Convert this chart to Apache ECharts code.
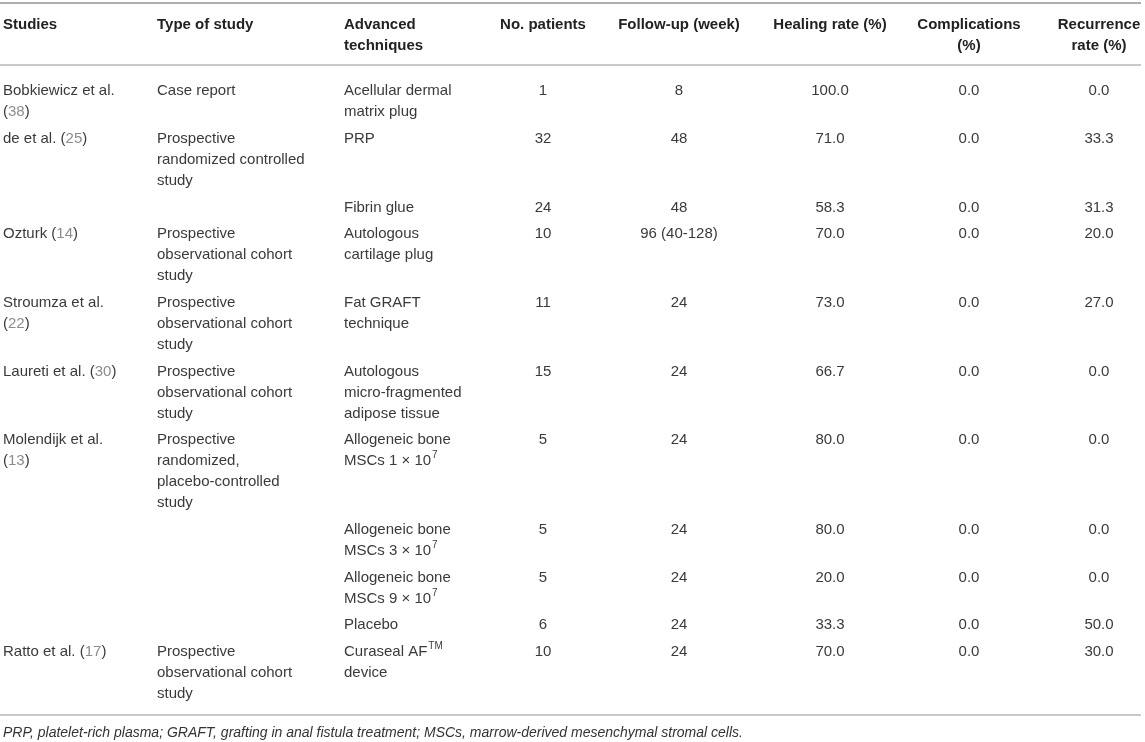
<!DOCTYPE html>
<html>
<head>
<meta charset="utf-8">
<title>Advanced techniques table</title>
<script src="https://cdn.jsdelivr.net/npm/echarts@6/dist/echarts.min.js"></script>
<style>
  html, body { margin: 0; padding: 0; background: #ffffff; }
  #chart { width: 1145px; height: 742px; }
</style>
</head>
<body>
<div id="chart"></div>
<script>
// ---------------- DATA ----------------
const columnHeaders = ['Studies', 'Type of study', 'Advanced\ntechniques', 'No. patients',
  'Follow-up (week)', 'Healing rate (%)', 'Complications\n(%)', 'Recurrence\nrate (%)'];

const studies = ['Bobkiewicz et al.\n(38)', 'de et al. (25)', '', 'Ozturk (14)',
  'Stroumza et al.\n(22)', 'Laureti et al. (30)', 'Molendijk et al.\n(13)', '', '', '',
  'Ratto et al. (17)'];

const studyTypes = ['Case report', 'Prospective\nrandomized controlled\nstudy', '',
  'Prospective\nobservational cohort\nstudy', 'Prospective\nobservational cohort\nstudy',
  'Prospective\nobservational cohort\nstudy',
  'Prospective\nrandomized,\nplacebo-controlled\nstudy', '', '', '',
  'Prospective\nobservational cohort\nstudy'];

const techniques = ['Acellular dermal\nmatrix plug', 'PRP', 'Fibrin glue', 'Autologous\ncartilage plug',
  'Fat GRAFT\ntechnique', 'Autologous\nmicro-fragmented\nadipose tissue',
  'Allogeneic bone\nMSCs 1 × 10^7', 'Allogeneic bone\nMSCs 3 × 10^7',
  'Allogeneic bone\nMSCs 9 × 10^7', 'Placebo', 'Curaseal AF^TM\ndevice'];

const patients = [1, 32, 24, 10, 11, 15, 5, 5, 5, 6, 10];
const followUpWeeks = ['8', '48', '48', '96 (40-128)', '24', '24', '24', '24', '24', '24', '24'];
const healingRate = [100.0, 71.0, 58.3, 70.0, 73.0, 66.7, 80.0, 80.0, 20.0, 33.3, 70.0];
const complications = [0.0, 0.0, 0.0, 0.0, 0.0, 0.0, 0.0, 0.0, 0.0, 0.0, 0.0];
const recurrenceRate = [0.0, 33.3, 31.3, 20.0, 27.0, 0.0, 0.0, 0.0, 0.0, 50.0, 30.0];

const footnote = 'PRP, platelet-rich plasma; GRAFT, grafting in anal fistula treatment; MSCs, marrow-derived mesenchymal stromal cells.';

// ---------------- LAYOUT / STYLE ----------------
const W = 1145, H = 742;
const FONT = '"Liberation Sans", Arial, Helvetica, sans-serif';
const colAnchor = [3, 157, 344, 543, 679, 830, 969, 1099];
const colAlign = ['left', 'left', 'left', 'center', 'center', 'center', 'center', 'center'];
const lineH = 21;
const rowPad = 5.7;
const topRuleY = 3;
const headerFirstLineY = 25;
const headerRuleY = 65;
const firstRowY = 91;
const bottomGap = 21;
const footGap = 18;
const ruleX = [0, 1141];

// ---------------- BUILD CELLS ----------------
function markup(s) {
  return String(s)
    .replace(/\((\d+)\)/g, '({ref|$1})')
    .replace(/\^(\w+)/g, '{sup|$1}');
}
const columnsData = [
  studies, studyTypes, techniques,
  patients.map(String), followUpWeeks,
  healingRate.map(v => v.toFixed(1)),
  complications.map(v => v.toFixed(1)),
  recurrenceRate.map(v => v.toFixed(1))
];
const nRows = patients.length;
const rowLines = [];
for (let r = 0; r < nRows; r++) {
  let m = 1;
  columnsData.forEach(col => { m = Math.max(m, String(col[r]).split('\n').length); });
  rowLines.push(m);
}
const rowY = [firstRowY];
for (let r = 1; r < nRows; r++) rowY.push(rowY[r - 1] + rowLines[r - 1] * lineH + rowPad);
const lastLineY = rowY[nRows - 1] + (rowLines[nRows - 1] - 1) * lineH;
const bottomRuleY = lastLineY + bottomGap;
const footY = bottomRuleY + footGap;

const cells = [];
columnHeaders.forEach((h, c) => {
  cells.push({ value: [colAnchor[c], headerFirstLineY], text: h, align: colAlign[c], kind: 'header' });
});
columnsData.forEach((col, c) => {
  col.forEach((v, r) => {
    if (v === '' || v == null) return;
    cells.push({ value: [colAnchor[c], rowY[r]], text: markup(v), align: colAlign[c], kind: 'body' });
  });
});
cells.push({ value: [colAnchor[0], footY], text: footnote, align: 'left', kind: 'foot' });

const rules = [
  { value: [topRuleY], width: 2, color: '#aeaeae' },
  { value: [headerRuleY], width: 1.5, color: '#b9b9b9' },
  { value: [bottomRuleY], width: 1.5, color: '#b9b9b9' }
];

const styles = {
  header: { fontSize: 15, fontWeight: 'bold', fontStyle: 'normal', fill: '#222222' },
  body: { fontSize: 15, fontWeight: 'normal', fontStyle: 'normal', fill: '#3a3a3a' },
  foot: { fontSize: 14, fontWeight: 'normal', fontStyle: 'italic', fill: '#333333' }
};

const chart = echarts.init(document.getElementById('chart'), null, { renderer: 'canvas' });
chart.setOption({
  animation: false,
  backgroundColor: '#ffffff',
  grid: { left: 0, right: 0, top: 0, bottom: 0 },
  xAxis: { type: 'value', min: 0, max: W, show: false },
  yAxis: { type: 'value', min: 0, max: H, inverse: true, show: false },
  series: [
    {
      type: 'custom',
      name: 'rules',
      silent: true,
      data: rules,
      renderItem: function (params, api) {
        const rule = rules[params.dataIndex];
        const a = api.coord([ruleX[0], api.value(0)]);
        const b = api.coord([ruleX[1], api.value(0)]);
        return {
          type: 'line',
          shape: { x1: a[0], y1: a[1], x2: b[0], y2: b[1] },
          style: { stroke: rule.color, lineWidth: rule.width }
        };
      }
    },
    {
      type: 'custom',
      name: 'cells',
      silent: true,
      data: cells,
      renderItem: function (params, api) {
        const cell = cells[params.dataIndex];
        const p = api.coord([api.value(0), api.value(1)]);
        const st = styles[cell.kind];
        const lh = cell.kind === 'foot' ? 16 : lineH;
        return {
          type: 'text',
          style: {
            x: p[0],
            y: p[1] - lh / 2,
            text: cell.text,
            align: cell.align,
            verticalAlign: 'top',
            fontFamily: FONT,
            fontSize: st.fontSize,
            fontWeight: st.fontWeight,
            fontStyle: st.fontStyle,
            fill: st.fill,
            lineHeight: lh,
            rich: {
              ref: { fontFamily: FONT, fontSize: st.fontSize, fill: '#8c8c8c', lineHeight: lh },
              sup: { fontFamily: FONT, fontSize: 10, fill: st.fill, lineHeight: lh, verticalAlign: 'top', padding: [0, 0, 0, 1] }
            }
          }
        };
      }
    }
  ]
});
</script>
</body>
</html>
